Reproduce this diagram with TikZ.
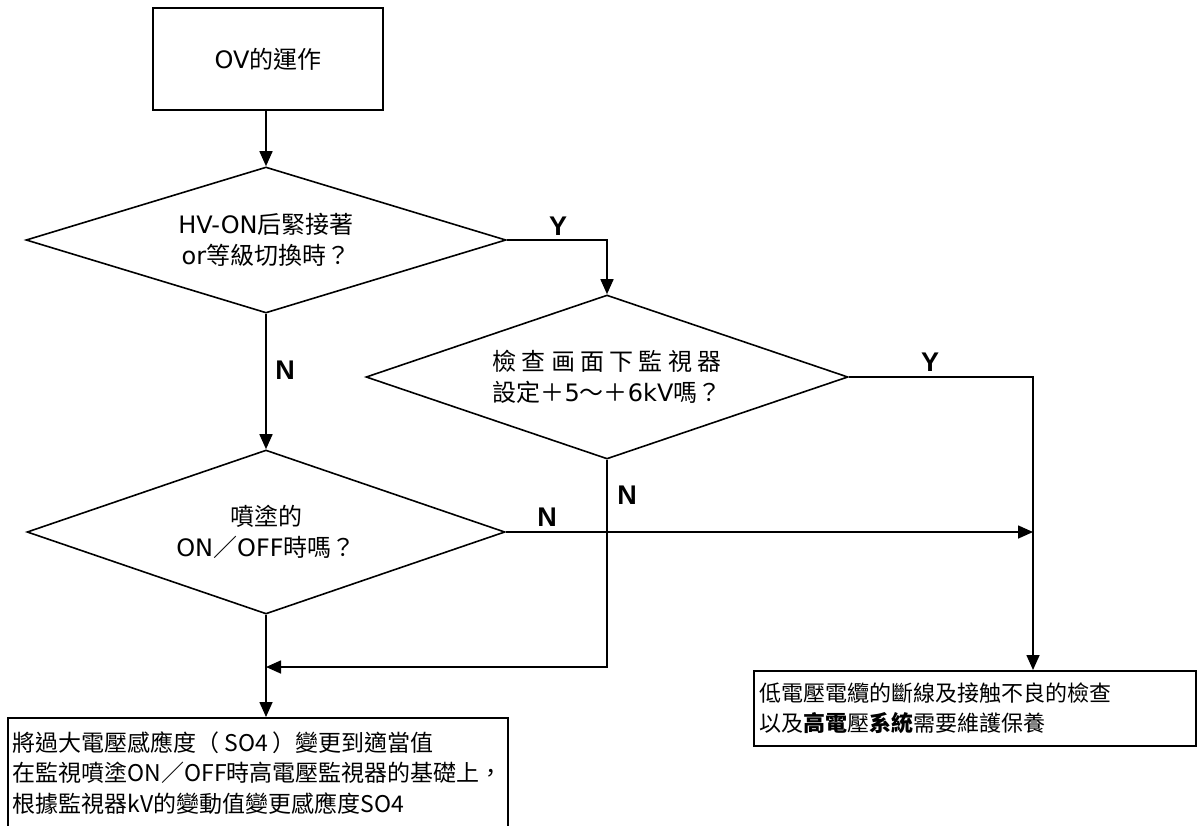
\documentclass[tikz,border=0pt]{standalone}
\usepackage{fontspec}
\setmainfont{Noto Sans CJK TC}
\newfontfamily\ynfont{Liberation Sans}
\newfontfamily\latf{DejaVu Sans}
\usetikzlibrary{shapes.geometric,arrows.meta}
\newcommand\fboxtxt{\fontsize{23pt}{30.5pt}\selectfont}
\newcommand\frbtxt{\fontsize{22pt}{30pt}\selectfont}
\newcommand\fdiatxt{\fontsize{24pt}{31pt}\selectfont}
\newcommand\lsp{\hspace{0.22em}}
\newcommand\latn[1]{{\latf #1}}
\tikzset{
  arr/.style={line width=1.6pt,-{Triangle[length=15pt,width=13pt]}},
  boxnode/.style={draw,line width=1.6pt,inner xsep=5pt,inner ysep=0pt,align=left,font=\fboxtxt},
  dia/.style={draw,diamond,line width=1.6pt,inner sep=0pt,aspect=3.3,align=center,font=\fdiatxt},
  yn/.style={font=\ynfont\bfseries\fontsize{27pt}{27pt}\selectfont,inner sep=0pt}
}
\begin{document}
\begin{tikzpicture}[x=1pt,y=-1pt]
\useasboundingbox (0,0) rectangle (1201,825);
\node[boxnode,align=center,minimum width=230pt,minimum height=102pt,font=\fdiatxt] (top) at (268,59) {\latn{OV}的運作};
\node[dia,minimum width=480pt,minimum height=146pt] (d1) at (266,240) {\latn{HV-ON}后緊接著\\\latn{or}等級切換時？};
\node[dia,minimum width=482pt,minimum height=164pt] (d2) at (607,377) {檢\lsp 查\lsp 画\lsp 面\lsp 下\lsp 監\lsp 視\lsp 器\\設定＋\latn{5}～＋\latn{6kV}嗎？};
\node[dia,minimum width=478pt,minimum height=164pt] (d3) at (266,532) {噴塗的\\\latn{ON}／\latn{OFF}時嗎？};
\node[boxnode,anchor=north west,minimum height=110pt] (lbox) at (7,717) {將過大電壓感應度（\hspace{0.2em}SO4\hspace{0.2em}）變更到適當值\\在監視噴塗ON／OFF時高電壓監視器的基礎上，\\根據監視器kV的變動值變更感應度SO4};
\node[boxnode,anchor=north west,minimum width=442pt,minimum height=75pt,text width=430pt,font=\frbtxt] (rbox) at (753,670) {低電壓電纜的斷線及接触不良的檢查\\以及\textbf{高電}壓\textbf{系統}需要維護保養};
\coordinate (yc) at (1033,0);
\coordinate (jn) at (266,667);
\draw[arr] (d1.north |- top.south) -- (d1.north);
\draw[arr] (d1.east) -- (d1.east -| d2.north) -- (d2.north);
\draw[arr] (d2.east) -- (d2.east -| yc) -- (yc |- rbox.north);
\draw[arr] (d1.south) -- (d3.north);
\draw[arr] (d3.east) -- (d3.east -| yc);
\draw[arr] (d2.south) -- (d2.south |- jn) -- (jn);
\draw[arr] (d3.south) -- (d3.south |- lbox.north);
\node[yn] (y1) at (558,226) {Y};
\node[yn] (y2) at (930,362) {Y};
\node[yn] (n1) at (285,370) {N};
\node[yn] (n2) at (547,517) {N};
\node[yn] (n3) at (627,495) {N};
\end{tikzpicture}
\end{document}
